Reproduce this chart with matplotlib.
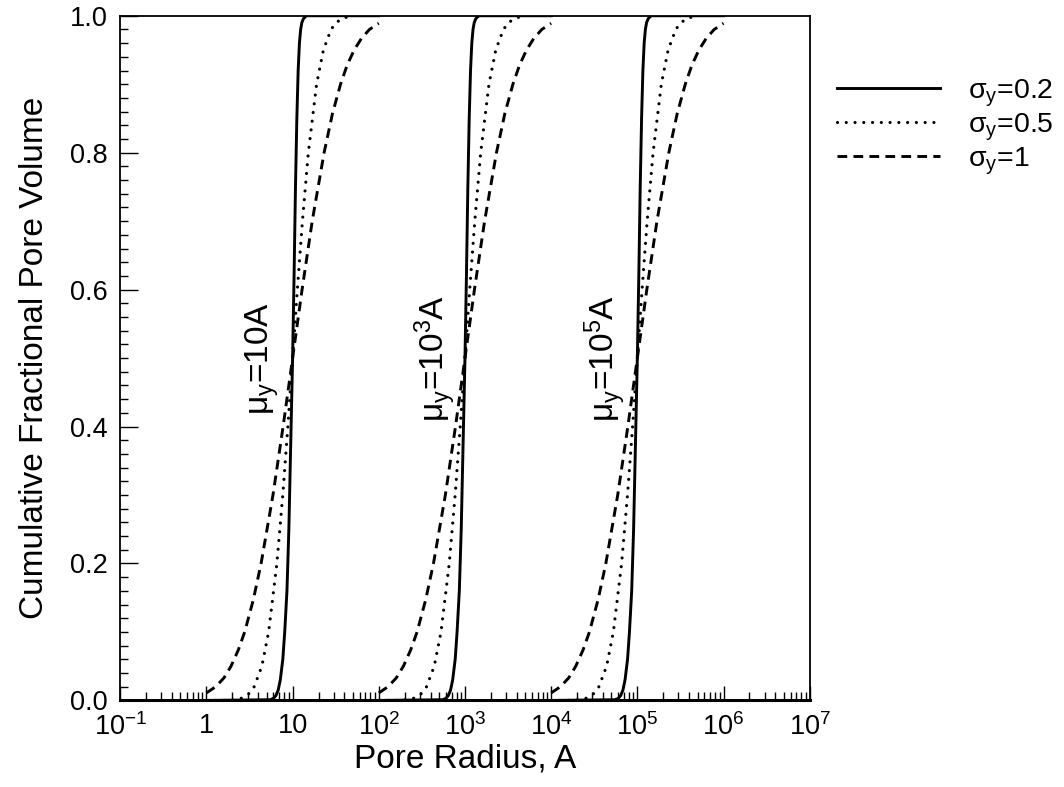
import matplotlib
matplotlib.use("Agg")
import matplotlib.pyplot as plt
from matplotlib.ticker import FixedLocator, LogLocator, MultipleLocator, NullFormatter

plt.rcParams['font.family'] = ['Liberation Sans', 'DejaVu Sans']
plt.rcParams['mathtext.fontset'] = 'custom'
plt.rcParams['mathtext.rm'] = 'Liberation Sans'
plt.rcParams['mathtext.it'] = 'Liberation Sans'
plt.rcParams['mathtext.default'] = 'rm'
plt.rcParams['lines.scale_dashes'] = False

# ---- data ----
medians = [10, 1e3, 1e5]                       # mu_y (A)
median_labels = [r'$\mu_y$=10A', r'$\mu_y$=10$^3$A', r'$\mu_y$=10$^5$A']
label_x = [4.5, 450, 4.3e4]
label_y = 0.5

# sigma_y = 0.2 (radius / median, cumulative fraction)
ratio_s02 = [0.1, 0.55, 0.6, 0.64, 0.68, 0.72, 0.77, 0.81, 0.86, 0.905, 0.953, 1.0,
             1.04, 1.08, 1.12, 1.16, 1.2, 1.24, 1.28, 1.34, 1.45, 10]
frac_s02 = [0, 0.001, 0.003, 0.007, 0.015, 0.03, 0.06, 0.1, 0.16, 0.25, 0.38, 0.5,
            0.62, 0.75, 0.85, 0.92, 0.96, 0.98, 0.99, 0.996, 1.0, 1.0]
# sigma_y = 0.5
ratio_s05 = [0.1, 0.16, 0.213, 0.26, 0.312, 0.358, 0.44, 0.527, 0.657, 0.769, 0.881, 1.0,
             1.135, 1.3, 1.523, 1.898, 2.276, 2.793, 3.201, 3.85, 4.3]
frac_s05 = [0, 0.0001, 0.001, 0.0035, 0.01, 0.02, 0.05, 0.1, 0.2, 0.3, 0.4, 0.5,
            0.6, 0.7, 0.8, 0.9, 0.95, 0.98, 0.99, 0.9965, 0.998]
# sigma_y = 1
ratio_s1 = [0.1, 0.128, 0.16, 0.193, 0.235, 0.278, 0.35, 0.431, 0.592, 0.776, 1.0,
            1.288, 1.689, 2.32, 2.9, 3.6, 4.3, 5.18, 6.3, 7.8, 10]
frac_s1 = [0.011, 0.02, 0.033, 0.05, 0.074, 0.1, 0.147, 0.2, 0.3, 0.4, 0.5,
           0.6, 0.7, 0.8, 0.857, 0.9, 0.928, 0.95, 0.967, 0.98, 0.989]

legend_labels = [r'$\sigma_y$=0.2', r'$\sigma_y$=0.5', r'$\sigma_y$=1']
xtick_vals = [1e-1, 1, 10, 1e2, 1e3, 1e4, 1e5, 1e6, 1e7]
xtick_labels = ['10$^{-1}$', '1', '10', '10$^2$', '10$^3$', '10$^4$', '10$^5$', '10$^6$', '10$^7$']
ytick_vals = [0.0, 0.2, 0.4, 0.6, 0.8, 1.0]
ytick_labels = ['0.0', '0.2', '0.4', '0.6', '0.8', '1.0']

# ---- figure ----
fig = plt.figure(figsize=(10.64, 7.87), dpi=100)
ax = fig.add_axes([0.113, 0.11, 0.648, 0.87])

styles = [
    dict(color='black', lw=2.1, ls='-'),
    dict(color='black', lw=2.3, ls=(0, (0.01, 6.3)), dash_capstyle='round'),
    dict(color='black', lw=2.1, ls=(0, (7.0, 4.5))),
]
series = [(ratio_s02, frac_s02), (ratio_s05, frac_s05), (ratio_s1, frac_s1)]

handles = []
for si, (ratios, fracs) in enumerate(series):
    for mi, m in enumerate(medians):
        xs = [m * r for r in ratios]
        ln, = ax.plot(xs, fracs, **styles[si])
        if mi == 0:
            handles.append(ln)

for m, lab, lx in zip(medians, median_labels, label_x):
    ax.text(lx, label_y, lab, rotation=90, ha='center', va='center', fontsize=24)

ax.set_xscale('log')
ax.set_xlim(1e-1, 1e7)
ax.set_ylim(0, 1.0)

ax.xaxis.set_major_locator(FixedLocator(xtick_vals))
ax.set_xticks(xtick_vals)
ax.set_xticklabels(xtick_labels)
ax.xaxis.set_minor_locator(LogLocator(base=10, subs=[2, 3, 4, 5, 6, 7, 8, 9], numticks=20))
ax.xaxis.set_minor_formatter(NullFormatter())
ax.set_yticks(ytick_vals)
ax.set_yticklabels(ytick_labels)
ax.yaxis.set_minor_locator(MultipleLocator(0.02))

ax.tick_params(axis='both', which='both', direction='in', top=False, right=False, labelsize=19.5)
ax.tick_params(axis='x', which='major', length=10, width=1.0, pad=9)
ax.tick_params(axis='x', which='minor', length=5.5, width=1.0)
ax.tick_params(axis='y', which='major', length=13, width=1.0, pad=9)
ax.tick_params(axis='y', which='minor', length=5.5, width=1.0)

for s in ax.spines.values():
    s.set_linewidth(1.3)
ax.spines['bottom'].set_linewidth(2.2)

ax.set_xlabel('Pore Radius, A', fontsize=24, labelpad=2)
ax.set_ylabel('Cumulative Fractional Pore Volume', fontsize=24, labelpad=14)

leg = ax.legend(handles, legend_labels, loc='upper left', bbox_to_anchor=(1.04, 0.91),
                frameon=False, fontsize=20.5, handlelength=3.6, handletextpad=1.0,
                labelspacing=0.1, borderpad=0, borderaxespad=0)

fig.savefig('out.png', dpi=100)
